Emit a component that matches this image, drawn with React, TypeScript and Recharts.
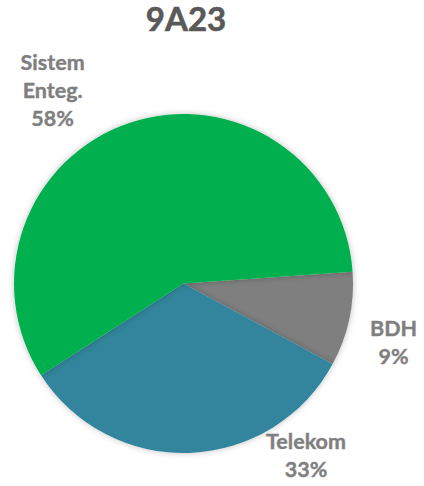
import { PieChart, Pie, Cell } from 'recharts';

const categories = ['BDH', 'Telekom', 'Sistem Enteg.'];
const shares = [9, 33, 58];
const sliceColors = ['#7f7f7f', '#31859c', '#00b050'];

// label lines, one entry per category
const labelLines = [['BDH', '9%'], ['Telekom', '33%'], ['Sistem', 'Enteg.', '58%']];

const data = categories.map((name, i) => ({ name, value: shares[i] }));

// where Excel put each label, relative to the pie centre (polar: degrees clockwise from 12 o'clock, distance)
const LABEL_POLAR = [
  { angle: 105.5, dist: 218 },
  { angle: 144.5, dist: 211 },
  { angle: -34, dist: 234 },
];

const renderLabel = (props: any) => {
  const { cx, cy, index } = props;
  const p = LABEL_POLAR[index];
  const rad = (p.angle * Math.PI) / 180;
  const x = cx + p.dist * Math.sin(rad);
  const y = cy - p.dist * Math.cos(rad);
  const lines = labelLines[index];
  const lh = 28;
  const top = y - ((lines.length - 1) * lh) / 2;
  return (
    <text
      x={x}
      y={top}
      textAnchor="middle"
      fill="#7f7f7f"
      fontFamily="Lato, 'Open Sans', sans-serif"
      fontWeight={700}
      fontSize={21.5}
      dominantBaseline="central"
      stroke="#7f7f7f"
      strokeWidth={0.4}
    >
      {lines.map((l, k) => (
        <tspan key={k} x={x} dy={k === 0 ? 0 : lh}>{l}</tspan>
      ))}
    </text>
  );
};

export default function App() {
  return (
    <div style={{ position: 'absolute', left: 0, top: 0, width: 424, height: 486, background: '#fff' }}>
      <PieChart
        width={424}
        height={486}
        margin={{ top: 0, right: 0, bottom: 0, left: 0 }}
        style={{ position: 'absolute', left: 0, top: 0 }}
      >
        <defs>
          <filter id="soft" x="-10%" y="-10%" width="120%" height="120%">
            <feDropShadow dx="0" dy="0" stdDeviation="3" floodColor="#000" floodOpacity="0.25" />
          </filter>
        </defs>
        <text
          x={186}
          y={18}
          textAnchor="middle"
          dominantBaseline="central"
          fill="#595959"
          fontFamily="Lato, 'Open Sans', sans-serif"
          fontWeight={700}
          fontSize={33}
          stroke="#595959"
          strokeWidth={0.6}
        >
          9A23
        </text>
        <Pie
          data={data}
          dataKey="value"
          nameKey="name"
          cx={183.5}
          cy={283.5}
          outerRadius={169.5}
          startAngle={4}
          endAngle={-356}
          stroke="none"
          label={renderLabel}
          labelLine={false}
          isAnimationActive={false}
          style={{ filter: 'url(#soft)' }}
        >
          {data.map((d, i) => (
            <Cell key={d.name} fill={sliceColors[i]} />
          ))}
        </Pie>
      </PieChart>
    </div>
  );
}
